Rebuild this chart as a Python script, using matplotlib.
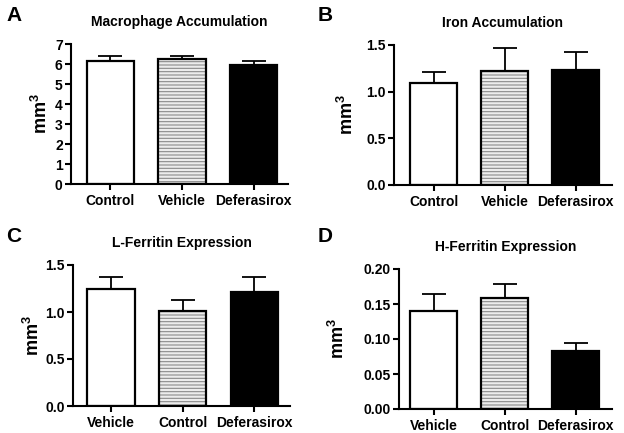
import numpy as np
import matplotlib
matplotlib.use('Agg')
import matplotlib.pyplot as plt

plt.rcParams['font.family'] = ['Liberation Sans', 'DejaVu Sans']
plt.rcParams['font.weight'] = 'bold'
plt.rcParams['mathtext.fontset'] = 'custom'
plt.rcParams['mathtext.rm'] = 'Liberation Sans:bold'
plt.rcParams['mathtext.bf'] = 'Liberation Sans:bold'
plt.rcParams['hatch.linewidth'] = 0.8

# panel A
macro_cats = ['Control', 'Vehicle', 'Deferasirox']
macro_mean = [6.13, 6.25, 5.93]
macro_err = [0.29, 0.13, 0.24]

# panel B
iron_cats = ['Control', 'Vehicle', 'Deferasirox']
iron_mean = [1.093, 1.218, 1.236]
iron_err = [0.121, 0.246, 0.194]

# panel C
lfer_cats = ['Vehicle', 'Control', 'Deferasirox']
lfer_mean = [1.245, 1.007, 1.216]
lfer_err = [0.131, 0.117, 0.160]

# panel D
hfer_cats = ['Vehicle', 'Control', 'Deferasirox']
hfer_mean = [0.1395, 0.159, 0.083]
hfer_err = [0.0243, 0.019, 0.011]

W, H = 624, 433
fig = plt.figure(figsize=(W / 100, H / 100), dpi=100)


def px_axes(l, r, t, b):
    return fig.add_axes([l / W, (H - b) / H, (r - l) / W, (b - t) / H])


def panel(ax, cats, mean, err, title, letter, yticks, fmt, xlim, lab_x):
    x = np.arange(len(cats))
    # error bars (up only) behind the bars
    ax.errorbar(x, mean, yerr=[np.zeros(len(mean)), err], fmt='none',
                ecolor='black', elinewidth=1.3, capsize=8.5, capthick=1.3,
                zorder=1)
    # white / hatched / black
    ax.bar(x[0], mean[0], width=0.66, color='white', edgecolor='black',
           linewidth=1.6, zorder=2)
    ax.bar(x[1], mean[1], width=0.66, color='#ececec', edgecolor='#8a8a8a',
           hatch='-----', linewidth=0, zorder=2)
    ax.bar(x[1], mean[1], width=0.66, fill=False, edgecolor='black',
           linewidth=1.6, zorder=3)
    ax.bar(x[2], mean[2], width=0.66, color='black', edgecolor='black',
           linewidth=1.6, zorder=2)

    ax.set_xlim(*xlim)
    ax.set_ylim(yticks[0], yticks[-1])
    ax.set_yticks(yticks)
    ax.set_yticklabels([fmt.format(v) for v in yticks])
    ax.set_xticks(x)
    ax.set_xticklabels(cats)
    for s in ['top', 'right']:
        ax.spines[s].set_visible(False)
    for s in ['left', 'bottom']:
        ax.spines[s].set_linewidth(1.5)
    ax.tick_params(width=1.5, length=4, labelsize=10, pad=2)
    ax.tick_params(axis='x', pad=3)
    ax.set_ylabel('mm$^{3}$', fontsize=13, fontweight='bold')
    ax.yaxis.set_label_coords(lab_x, 0.5)
    ax.set_title(title, fontsize=10, fontweight='bold', pad=13)
    ax.text(letter[1] / W, 1 - letter[2] / H, letter[0], transform=fig.transFigure,
            fontsize=15, fontweight='bold', ha='left', va='top')


axA = px_axes(71, 288, 44, 184)
panel(axA, macro_cats, macro_mean, macro_err, 'Macrophage Accumulation',
      ('A', 6, 6), np.arange(0, 8, 1), '{:.0f}', (-0.55, 2.48), -0.092)

axB = px_axes(394, 612, 45, 185)
panel(axB, iron_cats, iron_mean, iron_err, 'Iron Accumulation',
      ('B', 318, 6), np.array([0, 0.5, 1.0, 1.5]), '{:.1f}', (-0.56, 2.51), -0.17)

axC = px_axes(73, 290, 265, 406)
panel(axC, lfer_cats, lfer_mean, lfer_err, 'L-Ferritin Expression',
      ('C', 6, 227), np.array([0, 0.5, 1.0, 1.5]), '{:.1f}', (-0.53, 2.5), -0.14)

axD = px_axes(399, 612, 269, 409)
panel(axD, hfer_cats, hfer_mean, hfer_err, 'H-Ferritin Expression',
      ('D', 318, 227), np.array([0, 0.05, 0.10, 0.15, 0.20]), '{:.2f}', (-0.49, 2.51), -0.24)

fig.savefig('out.png', dpi=100, facecolor='white')
